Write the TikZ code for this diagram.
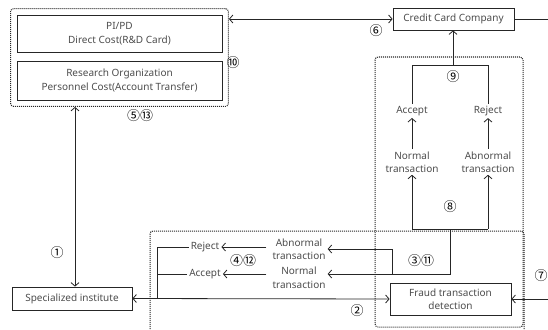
\documentclass[tikz,border=0pt]{standalone}
\usepackage{fontspec}
\setmainfont{Noto Sans}
\newfontfamily\circfont{Noto Sans CJK JP}
\usetikzlibrary{arrows.meta,positioning,fit}

\begin{document}
\begin{tikzpicture}[x=1pt, y=-1pt,
    box/.style={draw=black!85, line width=0.8pt, inner sep=0pt, align=center, font=\fontsize{10}{13.5}\selectfont, text=black!70},
    lbl/.style={inner sep=2pt, align=center, font=\fontsize{10}{13.5}\selectfont, text=black!70},
    grpbox/.style={draw=black!85, dash pattern=on 1pt off 1pt, line width=1pt, rounded corners=3pt},
    num/.style={inner sep=0pt, font=\circfont\fontsize{13}{13}\selectfont},
    ln/.style={line width=0.8pt, draw=black!85},
    arr/.style={ln, -{Straight Barb[length=3.5pt, width=8pt]}},
    dblarr/.style={ln, {Straight Barb[length=3.5pt, width=8pt]}-{Straight Barb[length=3.5pt, width=8pt]}}
]
\useasboundingbox (0,0) rectangle (548,329);
\clip (0,0) rectangle (548,329);

% left group
\node[box, minimum width=205pt, minimum height=37pt] (pipd) at (119.5,33.5) {PI/PD\\Direct Cost(R\&D Card)};
\node[box, minimum width=205pt, minimum height=39pt] (org) at (119.5,80.5) {Research Organization\\Personnel Cost(Account Transfer)};
\node[grpbox, fit=(pipd)(org), inner sep=6pt] (grp) {};

\node[box, minimum width=121pt, minimum height=22pt] (card) at (453.5,19) {Credit Card Company};
\node[box, minimum width=120pt, minimum height=23pt] (inst) at (72,298.5) {Specialized institute};
\node[box, minimum width=121pt, minimum height=32pt] (fraud) at (450.5,299) {Fraud transaction\\detection};

% dotted areas
\draw[grpbox] (375,57) rectangle (523,327);
\draw[grpbox] (150,231) rectangle (524,350);

% card company side
\node[lbl] (acc1) at (412,111) {Accept};
\node[lbl] (rej1) at (488,111) {Reject};
\node[lbl] (nrm1) at (412,162) {Normal\\transaction};
\node[lbl] (abn1) at (488,162) {Abnormal\\transaction};

% institute side
\node[lbl] (abn2) at (299,249) {Abnormal\\transaction};
\node[lbl] (nrm2) at (299,277.5) {Normal\\transaction};
\node[lbl] (rej2) at (205,247) {Reject};
\node[lbl] (acc2) at (205,274) {Accept};

\coordinate (j9) at (453,65);
\coordinate (j8) at (450,229);
\coordinate (j3a) at (392,249);
\coordinate (j3b) at (392,274);
\coordinate (jb) at (157,298.5);
\coordinate (out6) at (548,19);
\coordinate (in7) at (548,299);

\draw[dblarr] (card.west) -- (card.west -| grp.east);
\draw[ln] (card.east) -- (out6);
\draw[dblarr] (inst.north -| 75,0) -- (grp.south -| 75,0);

\draw[ln] (acc1.north) -- (acc1.north |- j9) -- (rej1.north |- j9) -- (rej1.north);
\draw[arr] (j9) -- (card.south -| j9);
\draw[arr] (nrm1.north) -- (acc1.south);
\draw[arr] (abn1.north) -- (rej1.south);

\draw[ln] (nrm1.south |- j8) -- (abn1.south |- j8);
\draw[arr] (nrm1.south |- j8) -- (nrm1.south);
\draw[arr] (abn1.south |- j8) -- (abn1.south);
\draw[ln] (j8) -- (j8 |- j3b) -- (j3b) -- (j3a);
\draw[arr] (j3a) -- (j3a -| abn2.east);
\draw[arr] (j3b) -- (j3b -| nrm2.east);

\draw[arr] ([xshift=-4pt]abn2.west |- rej2) -- (rej2.east);
\draw[arr] ([xshift=-4pt]nrm2.west |- acc2) -- (acc2.east);
\draw[ln] (rej2.west) -- (rej2.west -| jb) -- (jb);
\draw[ln] (acc2.west) -- (acc2.west -| jb);
\draw[arr] (jb) -- (inst.east);
\draw[arr] (inst.east) -- (fraud.west);
\draw[arr] (in7) -- (fraud.east);

% step numbers
\node[num] (n1) at (57,253) {①};
\node[num] (n2) at (357,311) {②};
\node[num] (n3) at (421,261) {③⑪};
\node[num] (n4) at (243,261) {④⑫};
\node[num] (n5) at (140,116) {⑤⑬};
\node[num] (n6) at (376,31) {⑥};
\node[num] (n7) at (541,276) {⑦};
\node[num] (n8) at (450,207) {⑧};
\node[num] (n9) at (453,77) {⑨};
\node[num] (n10) at (233,63) {⑩};
\end{tikzpicture}
\end{document}
